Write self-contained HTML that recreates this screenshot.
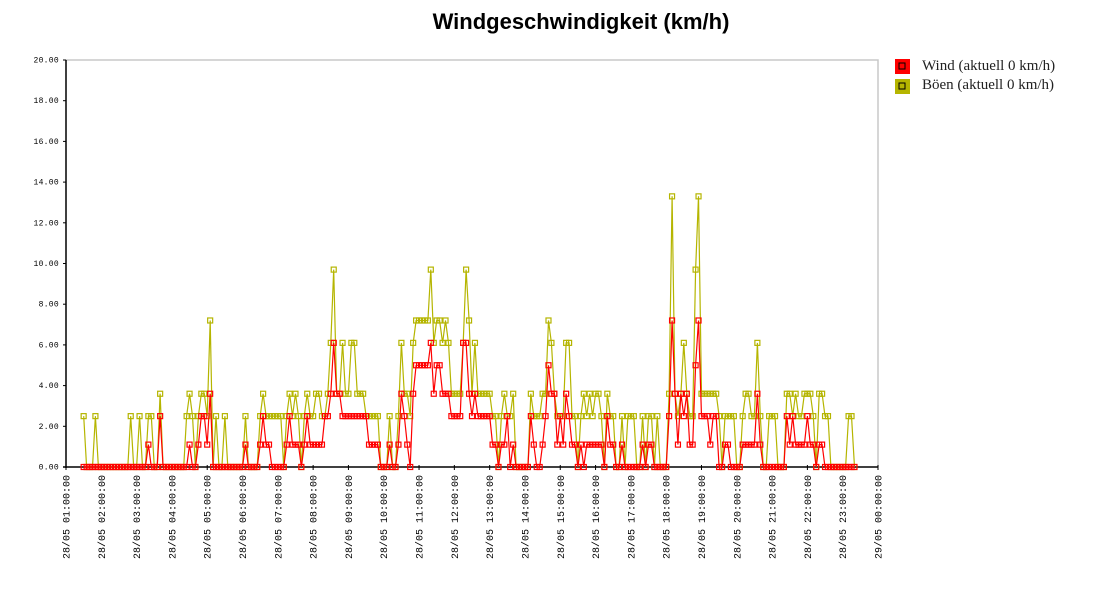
<!DOCTYPE html>
<html><head><meta charset="utf-8">
<style>
html,body{margin:0;padding:0;background:#fff;}
body{width:1100px;height:600px;overflow:hidden;}
svg text{font-family:"Liberation Mono",monospace;}
</style></head>
<body>
<svg id="chart" width="1100" height="600" xmlns="http://www.w3.org/2000/svg">
  <text x="581" y="29" text-anchor="middle" style="font-family:'Liberation Sans',sans-serif;font-weight:bold;font-size:22px">Windgeschwindigkeit (km/h)</text>
  <g>
    <g>
      <rect x="895" y="59" width="15" height="15" fill="#ff0000"/>
      <rect x="899" y="63" width="6" height="6" fill="none" stroke="#000" stroke-width="1"/>
      <text x="922" y="70" style="font-family:'Liberation Serif',serif;font-size:15px" fill="#222">Wind (aktuell 0 km/h)</text>
    </g>
    <g>
      <rect x="895" y="79" width="15" height="15" fill="#b5b500"/>
      <rect x="899" y="83" width="6" height="6" fill="none" stroke="#000" stroke-width="1"/>
      <text x="922" y="89" style="font-family:'Liberation Serif',serif;font-size:15px" fill="#222">Böen (aktuell 0 km/h)</text>
    </g>
  </g>
  <g id="axes"></g>
  <g id="series"></g>
</svg>
<script>
// data: 5-minute samples starting at 01:30 on 28/05
const startLabel = "01:30";
const xTickLabels = ["28/05 01:00:00","28/05 02:00:00","28/05 03:00:00","28/05 04:00:00","28/05 05:00:00","28/05 06:00:00","28/05 07:00:00","28/05 08:00:00","28/05 09:00:00","28/05 10:00:00","28/05 11:00:00","28/05 12:00:00","28/05 13:00:00","28/05 14:00:00","28/05 15:00:00","28/05 16:00:00","28/05 17:00:00","28/05 18:00:00","28/05 19:00:00","28/05 20:00:00","28/05 21:00:00","28/05 22:00:00","28/05 23:00:00","29/05 00:00:00"];
const yTickLabels = ["0.00","2.00","4.00","6.00","8.00","10.00","12.00","14.00","16.00","18.00","20.00"];
const gusts = [
 2.5,0,0,0,2.5,0,0,
 0,0,0,0,0,0,0,0,0,2.5,0,0,
 2.5,0,0,2.5,2.5,0,0,3.6,0,0,0,0,
 0,0,0,0,2.5,3.6,2.5,0,2.5,3.6,3.6,2.5,
 7.2,0,2.5,0,0,2.5,0,0,0,0,0,0,
 2.5,0,0,0,0,2.5,3.6,2.5,2.5,2.5,2.5,2.5,
 2.5,0,2.5,3.6,2.5,3.6,2.5,0,2.5,3.6,2.5,2.5,
 3.6,3.6,2.5,2.5,3.6,6.1,9.7,3.6,3.6,6.1,3.6,3.6,
 6.1,6.1,3.6,3.6,3.6,2.5,2.5,2.5,2.5,2.5,0,0,
 0,2.5,0,0,2.5,6.1,3.6,3.6,2.5,6.1,7.2,7.2,
 7.2,7.2,7.2,9.7,6.1,7.2,7.2,6.1,7.2,6.1,3.6,3.6,
 3.6,3.6,6.1,9.7,7.2,3.6,6.1,3.6,3.6,3.6,3.6,3.6,
 2.5,2.5,0,2.5,3.6,2.5,2.5,3.6,0,0,0,0,
 0,3.6,2.5,2.5,2.5,3.6,3.6,7.2,6.1,3.6,2.5,2.5,
 2.5,6.1,6.1,2.5,2.5,0,2.5,3.6,2.5,3.6,2.5,3.6,
 3.6,2.5,0,3.6,2.5,2.5,0,0,2.5,0,2.5,2.5,
 2.5,0,0,2.5,0,2.5,2.5,0,2.5,0,0,0,
 3.6,13.3,3.6,2.5,3.6,6.1,3.6,2.5,2.5,9.7,13.3,3.6,
 3.6,3.6,3.6,3.6,3.6,2.5,0,2.5,2.5,2.5,2.5,0,
 0,2.5,3.6,3.6,2.5,2.5,6.1,2.5,0,0,2.5,2.5,
 2.5,0,0,0,3.6,3.6,2.5,3.6,2.5,2.5,3.6,3.6,
 3.6,2.5,0,3.6,3.6,2.5,2.5,0,0,0,0,0,
 0,2.5,2.5,0
];
const wind = [
 0,0,0,0,0,0,0,
 0,0,0,0,0,0,0,0,0,0,0,0,
 0,0,0,1.1,0,0,0,2.5,0,0,0,0,
 0,0,0,0,0,1.1,0,0,1.1,2.5,2.5,1.1,
 3.6,0,0,0,0,0,0,0,0,0,0,0,
 1.1,0,0,0,0,1.1,2.5,1.1,1.1,0,0,0,
 0,0,1.1,2.5,1.1,1.1,1.1,0,1.1,2.5,1.1,1.1,
 1.1,1.1,1.1,2.5,2.5,3.6,6.1,3.6,3.6,2.5,2.5,2.5,
 2.5,2.5,2.5,2.5,2.5,2.5,1.1,1.1,1.1,1.1,0,0,
 0,1.1,0,0,1.1,3.6,2.5,1.1,0,3.6,5.0,5.0,
 5.0,5.0,5.0,6.1,3.6,5.0,5.0,3.6,3.6,3.6,2.5,2.5,
 2.5,2.5,6.1,6.1,3.6,2.5,3.6,2.5,2.5,2.5,2.5,2.5,
 1.1,1.1,0,1.1,1.1,2.5,0,1.1,0,0,0,0,
 0,2.5,1.1,0,0,1.1,2.5,5.0,3.6,3.6,1.1,2.5,
 1.1,3.6,2.5,1.1,1.1,0,1.1,0,1.1,1.1,1.1,1.1,
 1.1,1.1,0,2.5,1.1,1.1,0,0,1.1,0,0,0,
 0,0,0,1.1,0,1.1,1.1,0,0,0,0,0,
 2.5,7.2,3.6,1.1,3.6,2.5,3.6,1.1,1.1,5.0,7.2,2.5,
 2.5,2.5,1.1,2.5,2.5,0,0,1.1,1.1,0,0,0,
 0,1.1,1.1,1.1,1.1,1.1,3.6,1.1,0,0,0,0,
 0,0,0,0,2.5,1.1,2.5,1.1,1.1,1.1,1.1,2.5,
 1.1,1.1,0,1.1,1.1,0,0,0,0,0,0,0,
 0,0,0,0
];

const NS="http://www.w3.org/2000/svg";
const X0=66, X1=878, Y0=467, Y1=60, HOURS=23, YMAX=20;
function xHour(h){return X0+(X1-X0)*h/HOURS;}
function xIndex(i){const p=startLabel.split(":");const m=(+p[0]-1)*60+(+p[1])+i*5;return xHour(m/60);}
function y(v){return Y0-(Y0-Y1)*v/YMAX;}
function mk(tag,attrs,parent){const e=document.createElementNS(NS,tag);for(const k in attrs)e.setAttribute(k,attrs[k]);parent.appendChild(e);return e;}

const axes=document.getElementById('axes');
let frame=mk('path',{d:`M${X0} ${Y1}H${X1}V${Y0}`,fill:'none',stroke:'#c8c8c8','stroke-width':1.5},axes);


let ya=mk('line',{x1:X0,y1:Y1,x2:X0,y2:Y0+1,stroke:'#000','stroke-width':1.5},axes);


let xa=mk('line',{x1:X0-3,y1:Y0,x2:X1,y2:Y0,stroke:'#000','stroke-width':1.5},axes);


yTickLabels.forEach((lab,i)=>{
  const v=parseFloat(lab), yy=y(v);
  mk('line',{x1:X0-3,y1:yy,x2:X0,y2:yy,stroke:'#000','stroke-width':1},axes);
  const t=mk('text',{x:59,y:yy+2.5,'text-anchor':'end','font-size':'8px','letter-spacing':'0.3'},axes);
  t.textContent=lab;
  
  
});
xTickLabels.forEach((lab,i)=>{
  const xx=xHour(i);
  mk('line',{x1:xx,y1:Y0-2,x2:xx,y2:Y0+3,stroke:'#000','stroke-width':1},axes);
  const t=mk('text',{x:0,y:0,'text-anchor':'end','font-size':'10px',transform:`translate(${xx+3.5} 475) rotate(-90)`},axes);
  t.textContent=lab;
  
  
});

const ser=document.getElementById('series');
function drawSeries(vals,color,name){
  const g=mk('g',{},ser);
  
  
  const pts=vals.map((v,i)=>xIndex(i).toFixed(1)+','+y(v).toFixed(1)).join(' ');
  const pl=mk('polyline',{points:pts,fill:'none',stroke:color,'stroke-width':1.2},g);
  
  
  vals.forEach((v,i)=>{
    const r=mk('rect',{x:xIndex(i)-2.5,y:y(v)-2.5,width:5,height:5,fill:'none',stroke:color,'stroke-width':1.2},g);
    
    
  });
}
drawSeries(gusts,'#b5b500','gusts-series');
drawSeries(wind,'#ff0000','wind-series');
</script>
</body></html>
